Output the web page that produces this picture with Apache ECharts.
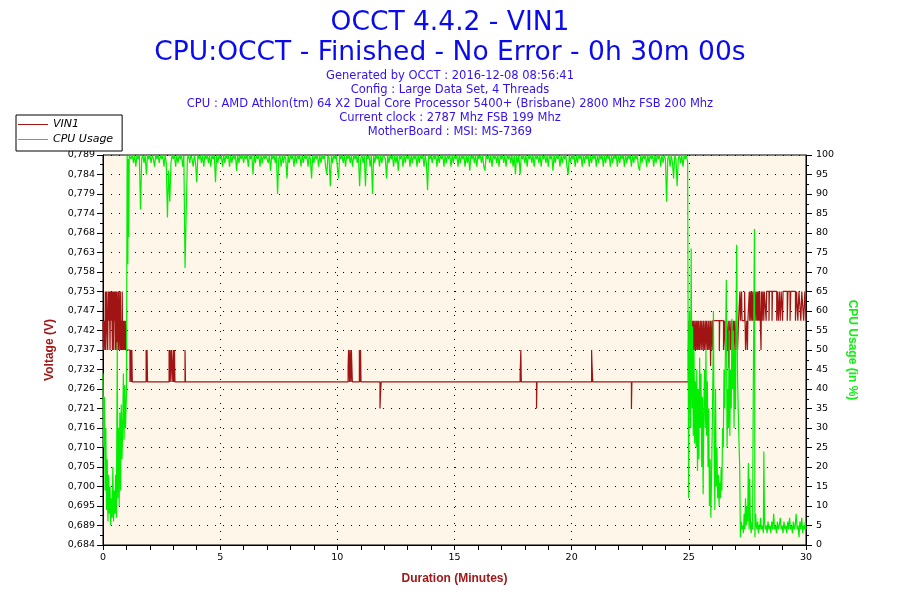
<!DOCTYPE html>
<html>
<head>
<meta charset="utf-8">
<title>OCCT 4.4.2 - VIN1</title>
<script src="https://cdn.jsdelivr.net/npm/echarts@6/dist/echarts.min.js"></script>
<style>
  html, body { margin: 0; padding: 0; background: #fff; }
  #chart { width: 900px; height: 600px; }
</style>
</head>
<body>
<div id="chart"></div>
<script>
// titles / info lines
var titleLines = ['OCCT 4.4.2 - VIN1', 'CPU:OCCT - Finished - No Error - 0h 30m 00s'];
var infoLines = [
  'Generated by OCCT : 2016-12-08 08:56:41',
  'Config : Large Data Set, 4 Threads',
  'CPU : AMD Athlon(tm) 64 X2 Dual Core Processor 5400+ (Brisbane) 2800 Mhz FSB 200 Mhz',
  'Current clock : 2787 Mhz FSB 199 Mhz',
  'MotherBoard : MSI: MS-7369'
];

// left axis tick labels (volts), bottom to top
var voltLabels = ['0,684', '0,689', '0,695', '0,700', '0,705', '0,710', '0,716', '0,721', '0,726', '0,732',
  '0,737', '0,742', '0,747', '0,753', '0,758', '0,763', '0,768', '0,774', '0,779', '0,784', '0,789'];
var voltMin = 0.6842;
var voltMax = 0.7894;

// VIN1 (V) : [minutes, volts]
var vin1 = [
  [0, 0.7447], [0.02, 0.7368], [0.05, 0.7447], [0.08, 0.7368], [0.1, 0.7526], [0.12, 0.7368], [0.15, 0.7526],
  [0.17, 0.7447], [0.2, 0.7368], [0.22, 0.7526], [0.25, 0.7447], [0.27, 0.7526], [0.3, 0.7368], [0.32, 0.7526],
  [0.35, 0.7447], [0.37, 0.7526], [0.4, 0.7368], [0.42, 0.7526], [0.44, 0.7368], [0.46, 0.7526], [0.48, 0.7447],
  [0.5, 0.7526], [0.52, 0.7368], [0.54, 0.7526], [0.56, 0.7368], [0.58, 0.7526], [0.6, 0.7447], [0.62, 0.7368],
  [0.64, 0.7526], [0.66, 0.7368], [0.68, 0.7526], [0.7, 0.7447], [0.72, 0.7368], [0.74, 0.7526], [0.76, 0.7368],
  [0.78, 0.7447], [0.8, 0.7368], [0.82, 0.7526], [0.84, 0.7368], [0.86, 0.7447], [0.88, 0.7368], [0.9, 0.7447],
  [0.92, 0.7368], [0.95, 0.7447], [0.97, 0.7368], [1.15, 0.7282], [1.19, 0.7368], [1.21, 0.7282], [1.23, 0.7368],
  [1.25, 0.7282], [1.84, 0.7368], [1.86, 0.7282], [1.88, 0.7368], [1.9, 0.7282], [2.82, 0.7368], [2.84, 0.7282],
  [2.86, 0.7368], [2.9, 0.7282], [2.92, 0.7368], [2.98, 0.7282], [3.0, 0.7368], [3.02, 0.7282], [3.05, 0.7368],
  [3.07, 0.7282], [3.5, 0.7368], [3.52, 0.7282], [10.46, 0.7326], [10.48, 0.7368], [10.52, 0.7282], [10.54, 0.7368],
  [10.58, 0.7282], [10.6, 0.7368], [10.64, 0.7282], [10.94, 0.7368], [10.97, 0.7282], [10.99, 0.7368], [11.01, 0.7282],
  [11.82, 0.7210], [11.84, 0.7245], [11.87, 0.7282], [17.8, 0.7300], [17.83, 0.7368], [17.85, 0.7282],
  [18.5, 0.7210], [18.52, 0.7282], [20.85, 0.7368], [20.87, 0.7326], [20.9, 0.7282], [22.55, 0.7210], [22.57, 0.7282],
  [24.98, 0.7368], [25.0, 0.7447], [25.02, 0.7282], [25.04, 0.7447], [25.06, 0.7282], [25.08, 0.7447], [25.1, 0.7368],
  [25.12, 0.7447], [25.14, 0.7282], [25.16, 0.7447], [25.18, 0.7368], [25.2, 0.7447], [25.23, 0.7368], [25.26, 0.7447],
  [25.29, 0.7368], [25.32, 0.7447], [25.35, 0.7368], [25.38, 0.7447], [25.4, 0.7368], [25.43, 0.7447], [25.46, 0.7368],
  [25.5, 0.7447], [25.53, 0.7368], [25.56, 0.7447], [25.6, 0.7368], [25.63, 0.7447], [25.66, 0.7368], [25.7, 0.7447],
  [25.73, 0.7368], [25.76, 0.7447], [25.8, 0.7368], [25.83, 0.7447], [25.86, 0.7368], [25.9, 0.7447], [25.93, 0.7325],
  [25.95, 0.7447], [26.0, 0.7368], [26.02, 0.7447], [26.3, 0.7368], [26.32, 0.7447], [26.48, 0.7368], [26.52, 0.7447],
  [26.56, 0.7368], [26.6, 0.7447], [26.64, 0.7368], [26.68, 0.7447], [26.7, 0.7320], [26.72, 0.7368], [26.75, 0.7447],
  [26.78, 0.7368], [26.82, 0.7447], [26.86, 0.7368], [26.9, 0.7447], [26.93, 0.7368], [26.96, 0.7447], [27.0, 0.7368],
  [27.03, 0.7447], [27.08, 0.7368], [27.12, 0.7447], [27.18, 0.7526], [27.2, 0.7447], [27.25, 0.7526], [27.27, 0.7447],
  [27.38, 0.7526], [27.4, 0.7447], [27.42, 0.7368], [27.47, 0.7447], [27.5, 0.7368], [27.52, 0.7447], [27.58, 0.7526],
  [27.6, 0.7447], [27.62, 0.7526], [27.66, 0.7447], [27.68, 0.7526], [27.72, 0.7447], [27.74, 0.7526], [27.77, 0.7447],
  [27.8, 0.7526], [27.83, 0.7447], [27.86, 0.7526], [27.9, 0.7447], [27.92, 0.7526], [27.95, 0.7447], [27.97, 0.7526],
  [28.0, 0.7447], [28.02, 0.7526], [28.08, 0.7368], [28.1, 0.7526], [28.13, 0.7447], [28.16, 0.7526], [28.2, 0.7447],
  [28.22, 0.7526], [28.3, 0.7447], [28.32, 0.7526], [28.42, 0.7447], [28.44, 0.7526], [28.55, 0.7447], [28.57, 0.7526],
  [28.75, 0.7447], [28.78, 0.7526], [28.82, 0.7447], [28.86, 0.7526], [28.9, 0.7447], [28.94, 0.7526], [29.0, 0.7447],
  [29.02, 0.7526], [29.2, 0.7447], [29.23, 0.7526], [29.32, 0.7447], [29.35, 0.7526], [29.55, 0.7447], [29.6, 0.7526],
  [29.65, 0.7447], [29.7, 0.7526], [29.78, 0.7447], [29.82, 0.7526], [29.9, 0.7447], [29.95, 0.7526], [30, 0.7447]
];

// CPU Usage (%) : [minutes, percent]
var cpuUsage = [
  [0.0, 44], [0.03, 25], [0.06, 38], [0.09, 14], [0.12, 30], [0.15, 9], [0.18, 22], [0.21, 6], [0.24, 18], [0.27, 8],
  [0.3, 15], [0.33, 5], [0.36, 12], [0.39, 7], [0.42, 20], [0.45, 6], [0.48, 14], [0.51, 8], [0.54, 18], [0.57, 7],
  [0.61, 52], [0.63, 12], [0.66, 30], [0.69, 10], [0.72, 34], [0.75, 14], [0.78, 36], [0.81, 22], [0.84, 30],
  [0.87, 44], [0.9, 27], [0.93, 41], [0.96, 30], [1.0, 39], [1.03, 100], [1.06, 72], [1.08, 99], [1.1, 79], [1.12, 100],
  [1.15, 100], [1.2, 99], [1.25, 100], [1.3, 98], [1.35, 100], [1.4, 97], [1.45, 100], [1.5, 99], [1.55, 100],
  [1.6, 86], [1.65, 99], [1.7, 100], [1.75, 98], [1.8, 100], [1.85, 95], [1.9, 100], [1.95, 99],
  [2.0, 100], [2.05, 98], [2.1, 100], [2.15, 99], [2.2, 97], [2.25, 100], [2.3, 99], [2.35, 100], [2.4, 98], [2.45, 100],
  [2.5, 99], [2.55, 100], [2.6, 97], [2.65, 100], [2.7, 98], [2.75, 84], [2.8, 96], [2.85, 88], [2.9, 98], [2.95, 100],
  [3.0, 99], [3.05, 100], [3.1, 97], [3.15, 100], [3.2, 98], [3.25, 100], [3.3, 99], [3.35, 100], [3.4, 97], [3.45, 100],
  [3.5, 71], [3.55, 85], [3.6, 99], [3.65, 100], [3.7, 98], [3.75, 100], [3.8, 99], [3.85, 97], [3.9, 100], [3.95, 98],
  [4.0, 93], [4.05, 100], [4.1, 99], [4.15, 100], [4.2, 98], [4.25, 100], [4.3, 97], [4.35, 100], [4.4, 99], [4.45, 100],
  [4.5, 98], [4.55, 100], [4.6, 97], [4.65, 100], [4.7, 99], [4.75, 100], [4.8, 93], [4.85, 100], [4.9, 98], [4.95, 100],
  [5.0, 99], [5.05, 100], [5.1, 97], [5.15, 100], [5.2, 98], [5.25, 100], [5.3, 99], [5.35, 100], [5.4, 97], [5.45, 100],
  [5.5, 98], [5.55, 100], [5.6, 99], [5.65, 100], [5.7, 96], [5.75, 100], [5.8, 98], [5.85, 100], [5.9, 99], [5.95, 100],
  [6.0, 98], [6.05, 100], [6.1, 99], [6.15, 100], [6.2, 97], [6.25, 100], [6.3, 99], [6.35, 100], [6.4, 95], [6.45, 100],
  [6.5, 98], [6.55, 100], [6.6, 99], [6.65, 100], [6.7, 97], [6.75, 100], [6.8, 98], [6.85, 100], [6.9, 99], [6.95, 100],
  [7.0, 100], [7.05, 98], [7.1, 100], [7.15, 96], [7.2, 100], [7.25, 99], [7.3, 100], [7.35, 98], [7.4, 100], [7.45, 90],
  [7.5, 99], [7.55, 100], [7.6, 97], [7.65, 100], [7.7, 98], [7.75, 100], [7.8, 99], [7.85, 94], [7.9, 100], [7.95, 98],
  [8.0, 100], [8.05, 99], [8.1, 100], [8.15, 97], [8.2, 100], [8.25, 98], [8.3, 100], [8.35, 99], [8.4, 100], [8.45, 97],
  [8.5, 100], [8.55, 98], [8.6, 100], [8.65, 99], [8.7, 100], [8.75, 97], [8.8, 100], [8.85, 99], [8.9, 94], [8.95, 100],
  [9.0, 98], [9.05, 100], [9.1, 99], [9.15, 100], [9.2, 97], [9.25, 100], [9.3, 98], [9.35, 100], [9.4, 99], [9.45, 100],
  [9.5, 97], [9.55, 95], [9.6, 100], [9.65, 99], [9.7, 92], [9.75, 100], [9.8, 98], [9.85, 100], [9.9, 99], [9.95, 100],
  [10.0, 100], [10.05, 94], [10.1, 100], [10.15, 99], [10.2, 100], [10.25, 98], [10.3, 100], [10.35, 97], [10.4, 100],
  [10.45, 99], [10.5, 100], [10.55, 98], [10.6, 100], [10.65, 97], [10.7, 100], [10.75, 99], [10.8, 100], [10.85, 98],
  [10.9, 100], [10.95, 92],
  [11.0, 99], [11.05, 100], [11.1, 98], [11.15, 100], [11.2, 92], [11.25, 100], [11.3, 99], [11.35, 100], [11.4, 97],
  [11.45, 100], [11.5, 90], [11.55, 100], [11.6, 98], [11.65, 100], [11.7, 99], [11.75, 100], [11.8, 97], [11.85, 100],
  [11.9, 98], [11.95, 100],
  [12.0, 100], [12.05, 99], [12.1, 94], [12.15, 100], [12.2, 98], [12.25, 100], [12.3, 99], [12.35, 100], [12.4, 97],
  [12.45, 100], [12.5, 98], [12.55, 100], [12.6, 96], [12.65, 100], [12.7, 99], [12.75, 100], [12.8, 97], [12.85, 100],
  [12.9, 98], [12.95, 100],
  [13.0, 99], [13.05, 100], [13.1, 97], [13.15, 100], [13.2, 98], [13.25, 100], [13.3, 99], [13.35, 100], [13.4, 97],
  [13.45, 100], [13.5, 98], [13.55, 100], [13.6, 99], [13.65, 100], [13.7, 97], [13.75, 100], [13.8, 98], [13.85, 91],
  [13.9, 100], [13.95, 99],
  [14.0, 100], [14.05, 98], [14.1, 100], [14.15, 99], [14.2, 100], [14.25, 97], [14.3, 100], [14.35, 98], [14.4, 100],
  [14.45, 99], [14.5, 100], [14.55, 97], [14.6, 100], [14.65, 98], [14.7, 100], [14.75, 99], [14.8, 100], [14.85, 97],
  [14.9, 100], [14.95, 98],
  [15.0, 100], [15.05, 99], [15.1, 100], [15.15, 97], [15.2, 100], [15.25, 98], [15.3, 100], [15.35, 99], [15.4, 100],
  [15.45, 97], [15.5, 100], [15.55, 98], [15.6, 100], [15.65, 96], [15.7, 100], [15.75, 99], [15.8, 100], [15.85, 98],
  [15.9, 100], [15.95, 97],
  [16.0, 100], [16.05, 99], [16.1, 100], [16.15, 98], [16.2, 100], [16.25, 97], [16.3, 96], [16.35, 100], [16.4, 99],
  [16.45, 100], [16.5, 98], [16.55, 100], [16.6, 97], [16.65, 100], [16.7, 99], [16.75, 100], [16.8, 98], [16.85, 100],
  [16.9, 97], [16.95, 100],
  [17.0, 99], [17.05, 100], [17.1, 98], [17.15, 100], [17.2, 97], [17.25, 100], [17.3, 99], [17.35, 100], [17.4, 98],
  [17.45, 100], [17.5, 97], [17.55, 100], [17.6, 95], [17.65, 100], [17.7, 98], [17.75, 100], [17.8, 95], [17.85, 100],
  [17.9, 99], [17.95, 100],
  [18.0, 98], [18.05, 100], [18.1, 97], [18.15, 100], [18.2, 99], [18.25, 100], [18.3, 98], [18.35, 100], [18.4, 97],
  [18.45, 100], [18.5, 99], [18.55, 100], [18.6, 98], [18.65, 100], [18.7, 97], [18.75, 100], [18.8, 99], [18.85, 100],
  [18.9, 98], [18.95, 100],
  [19.0, 97], [19.05, 100], [19.1, 99], [19.15, 100], [19.2, 96], [19.25, 100], [19.3, 98], [19.35, 100], [19.4, 99],
  [19.45, 100], [19.5, 97], [19.55, 100], [19.6, 98], [19.65, 100], [19.7, 99], [19.75, 100], [19.8, 97], [19.85, 95],
  [19.9, 100], [19.95, 98],
  [20.0, 100], [20.05, 99], [20.1, 100], [20.15, 97], [20.2, 100], [20.25, 98], [20.3, 100], [20.35, 99], [20.4, 100],
  [20.45, 97], [20.5, 100], [20.55, 98], [20.6, 100], [20.65, 99], [20.7, 100], [20.75, 97], [20.8, 100], [20.85, 98],
  [20.9, 100], [20.95, 99],
  [21.0, 100], [21.05, 97], [21.1, 100], [21.15, 98], [21.2, 100], [21.25, 99], [21.3, 100], [21.35, 97], [21.4, 100],
  [21.45, 98], [21.5, 100], [21.55, 99], [21.6, 100], [21.65, 97], [21.7, 100], [21.75, 98], [21.8, 100], [21.85, 99],
  [21.9, 100], [21.95, 97],
  [22.0, 100], [22.05, 98], [22.1, 100], [22.15, 99], [22.2, 100], [22.25, 97], [22.3, 100], [22.35, 98], [22.4, 100],
  [22.45, 99], [22.5, 100], [22.55, 97], [22.6, 100], [22.65, 98], [22.7, 100], [22.75, 99], [22.8, 100], [22.85, 97],
  [22.9, 96], [22.95, 100],
  [23.0, 98], [23.05, 100], [23.1, 99], [23.15, 100], [23.2, 97], [23.25, 100], [23.3, 98], [23.35, 100], [23.4, 99],
  [23.45, 100], [23.5, 97], [23.55, 100], [23.6, 98], [23.65, 100], [23.7, 99], [23.75, 100], [23.8, 97], [23.85, 100],
  [23.9, 98], [23.95, 100],
  [24.0, 99], [24.05, 88], [24.1, 99], [24.15, 100], [24.2, 97], [24.25, 100], [24.3, 98], [24.35, 94], [24.4, 100],
  [24.45, 99], [24.5, 92], [24.55, 99], [24.6, 100], [24.65, 98], [24.7, 100], [24.75, 97], [24.8, 100], [24.85, 99],
  [24.9, 100], [24.95, 98],
  [24.99, 12], [25.03, 60], [25.07, 30], [25.1, 76], [25.13, 35], [25.16, 56], [25.19, 28], [25.22, 50], [25.25, 26],
  [25.28, 42], [25.31, 25], [25.34, 45], [25.37, 19], [25.4, 40], [25.43, 22], [25.46, 48], [25.49, 30], [25.52, 44],
  [25.55, 20], [25.58, 38], [25.61, 13], [25.64, 35], [25.67, 45], [25.7, 30], [25.73, 50], [25.76, 28], [25.79, 42],
  [25.82, 20], [25.85, 35], [25.88, 10], [25.91, 22], [25.94, 7], [25.97, 18], [26.0, 30], [26.03, 45], [26.05, 60],
  [26.08, 25], [26.11, 9], [26.14, 40], [26.17, 15], [26.2, 25], [26.23, 12], [26.26, 18], [26.29, 10], [26.32, 16],
  [26.35, 12], [26.38, 20], [26.41, 14], [26.44, 30], [26.47, 25], [26.5, 45], [26.53, 35], [26.6, 68], [26.63, 25],
  [26.66, 40], [26.69, 30], [26.72, 55], [26.75, 28], [26.78, 45], [26.81, 35], [26.84, 58], [26.87, 40], [26.9, 55],
  [26.93, 30], [26.96, 50], [26.99, 35], [27.04, 77], [27.08, 42], [27.13, 29], [27.17, 20], [27.2, 2], [27.24, 6],
  [27.27, 4], [27.3, 5], [27.33, 3], [27.36, 8], [27.39, 4], [27.42, 12], [27.45, 5], [27.48, 10], [27.51, 6],
  [27.54, 21], [27.57, 4], [27.6, 17], [27.63, 5], [27.66, 3], [27.69, 6], [27.72, 4], [27.75, 40], [27.8, 81],
  [27.82, 2], [27.85, 8], [27.88, 5], [27.91, 4], [27.94, 6], [27.97, 3], [28.0, 5], [28.03, 4], [28.06, 7],
  [28.1, 4], [28.14, 5], [28.18, 3], [28.2, 24], [28.23, 6], [28.26, 4], [28.3, 5], [28.34, 3], [28.38, 6], [28.42, 4],
  [28.46, 5], [28.5, 3], [28.54, 6], [28.58, 4], [28.62, 8], [28.66, 4], [28.7, 5], [28.74, 3], [28.78, 6], [28.82, 4],
  [28.86, 5], [28.9, 7], [28.94, 4], [28.98, 5], [29.02, 3], [29.06, 6], [29.1, 4], [29.14, 5], [29.18, 3], [29.22, 6],
  [29.26, 4], [29.3, 7], [29.34, 4], [29.38, 5], [29.42, 3], [29.46, 6], [29.5, 4], [29.54, 5], [29.58, 8], [29.62, 4],
  [29.66, 5], [29.7, 2], [29.74, 6], [29.78, 4], [29.82, 7], [29.86, 3], [29.9, 5], [29.94, 4], [29.97, 6], [30.0, 4]
];

var chart = echarts.init(document.getElementById('chart'), null, { renderer: 'canvas' });

var dotted = { color: '#000', width: 1, type: [1, 7] };
var labelFont = { color: '#000', fontSize: 9.5, fontFamily: 'DejaVu Sans' };
var nameFont = { fontWeight: 'bold', fontSize: 12, fontFamily: 'Liberation Sans' };

var option = {
  animation: false,
  backgroundColor: '#fff',
  title: {
    text: titleLines.join('\n'),
    subtext: infoLines.join('\n'),
    left: 'center',
    top: 3,
    itemGap: 1,
    textStyle: { fontSize: 26.5, fontWeight: 'normal', color: '#0a0aee', fontFamily: 'DejaVu Sans', lineHeight: 30 },
    subtextStyle: { fontSize: 11.5, color: '#3311ee', fontFamily: 'DejaVu Sans', lineHeight: 14 }
  },
  legend: {
    left: 16,
    top: 115,
    orient: 'vertical',
    padding: [4, 9, 6, 2],
    itemGap: 4,
    itemWidth: 30,
    itemHeight: 1,
    borderColor: '#000',
    borderWidth: 1,
    backgroundColor: '#fff',
    textStyle: { fontStyle: 'italic', fontSize: 11, color: '#000', fontFamily: 'DejaVu Sans' },
    data: [{ name: 'VIN1', icon: 'rect' }, { name: 'CPU Usage', icon: 'rect' }]
  },
  grid: {
    left: 103,
    right: 94,
    top: 155,
    bottom: 55,
    show: true,
    backgroundColor: '#fdf6e9',
    borderColor: '#000',
    borderWidth: 1
  },
  xAxis: {
    type: 'value',
    min: 0,
    max: 30,
    interval: 5,
    axisLine: { lineStyle: { color: '#000' } },
    axisTick: { length: 5, lineStyle: { color: '#000' } },
    minorTick: { show: true, splitNumber: 5, length: 5, lineStyle: { color: '#000' } },
    splitLine: { show: true, lineStyle: dotted },
    axisLabel: Object.assign({ margin: 8 }, labelFont),
    name: 'Duration (Minutes)',
    nameLocation: 'middle',
    nameGap: 28,
    nameTextStyle: Object.assign({ color: '#a01818' }, nameFont)
  },
  yAxis: [
    {
      type: 'value',
      position: 'left',
      min: voltMin,
      max: voltMax,
      alignTicks: true,
      axisLine: { show: true, lineStyle: { color: '#000' } },
      axisTick: { show: true, length: 6, lineStyle: { color: '#000' } },
      minorTick: { show: true, splitNumber: 2, length: 3, lineStyle: { color: '#000' } },
      splitLine: { show: false },
      axisLabel: Object.assign({
        margin: 8,
        formatter: function (v) {
          return voltLabels[Math.round((v - voltMin) / ((voltMax - voltMin) / 20))];
        }
      }, labelFont),
      name: 'Voltage (V)',
      nameLocation: 'middle',
      nameGap: 47,
      nameTextStyle: Object.assign({ color: '#a01818' }, nameFont)
    },
    {
      type: 'value',
      position: 'right',
      min: 0,
      max: 100,
      interval: 5,
      axisLine: { show: true, lineStyle: { color: '#000' } },
      axisTick: { show: true, length: 6, lineStyle: { color: '#000' } },
      minorTick: { show: true, splitNumber: 2, length: 3, lineStyle: { color: '#000' } },
      splitLine: { show: true, lineStyle: dotted },
      axisLabel: Object.assign({ margin: 10 }, labelFont),
      name: 'CPU Usage (in %)',
      nameLocation: 'middle',
      nameRotate: -90,
      nameGap: 40,
      nameTextStyle: Object.assign({ color: '#11ee11' }, nameFont)
    }
  ],
  series: [
    {
      name: 'VIN1',
      type: 'line',
      yAxisIndex: 0,
      step: 'end',
      symbol: 'none',
      data: vin1,
      color: '#a01414',
      lineStyle: { color: '#a01414', width: 1.2 }
    },
    {
      name: 'CPU Usage',
      type: 'line',
      yAxisIndex: 1,
      symbol: 'none',
      data: cpuUsage,
      color: '#00ee00',
      lineStyle: { color: '#00ee00', width: 1.2 }
    }
  ]
};

chart.setOption(option);
</script>
</body>
</html>
